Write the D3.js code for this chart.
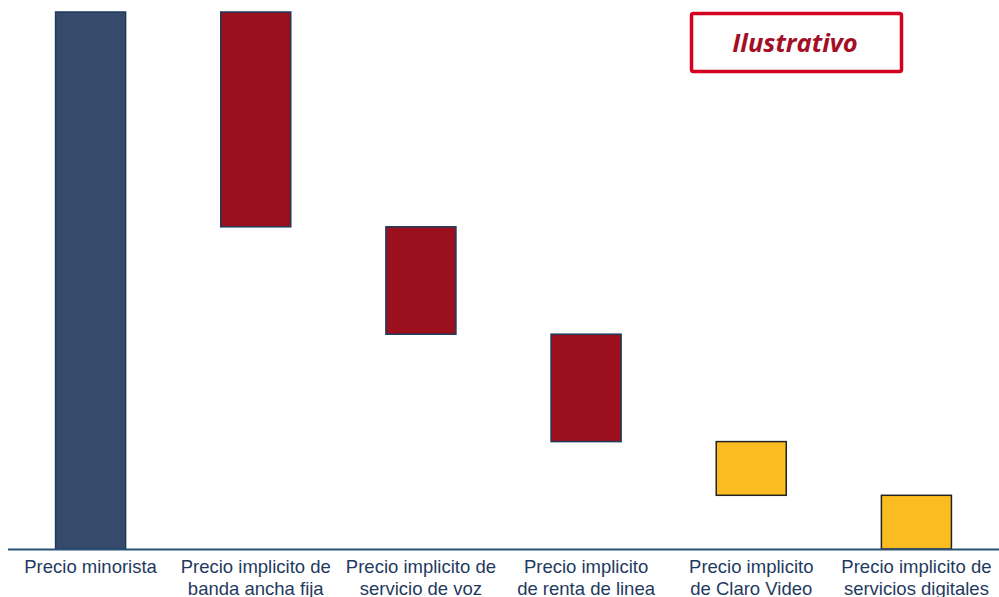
<!DOCTYPE html>
<html>
<head>
<meta charset="utf-8">
<script src="https://cdn.jsdelivr.net/npm/d3@7"></script>
<style>
  body { margin: 0; background: #fff; }
  svg { display: block; }
</style>
</head>
<body>
<div id="app"></div>
<script>
const categories = [
  ["Precio minorista"],
  ["Precio implicito de", "banda ancha fija"],
  ["Precio implicito de", "servicio de voz"],
  ["Precio implicito", "de renta de linea"],
  ["Precio implicito", "de Claro Video"],
  ["Precio implicito de", "servicios digitales"],
];
// total first, then the parts that stack down to zero
const values = [100, 40, 20, 20, 10, 10];
const kinds = ["total", "red", "red", "red", "yellow", "yellow"];

const width = 999;
const height = 597;

const fills = { total: "#364b6b", red: "#9c0f1c", yellow: "#fbbc21" };
const strokes = { total: "#1d3a5c", red: "#1d3a5c", yellow: "#222" };

// waterfall: each part hangs from where the previous one ended
let level = values[0];
const bars = values.map((v, i) => {
  if (i === 0) return { i, y0: 0, y1: v, kind: kinds[i] };
  const b = { i, y0: level - v, y1: level, kind: kinds[i] };
  level -= v;
  return b;
});

const svg = d3
  .select("#app")
  .append("svg")
  .attr("width", width)
  .attr("height", height)
  .attr("viewBox", [0, 0, width, height]);

const x = d3
  .scaleBand()
  .domain(d3.range(categories.length))
  .range([8, 999])
  .paddingInner(0.576)
  .paddingOuter(0.288);

const y = d3.scaleLinear().domain([0, 100]).range([549, 12]);

svg
  .append("g")
  .selectAll("rect")
  .data(bars)
  .join("rect")
  .attr("x", (d) => x(d.i))
  .attr("width", x.bandwidth())
  .attr("y", (d) => y(d.y1))
  .attr("height", (d) => y(d.y0) - y(d.y1))
  .attr("fill", (d) => fills[d.kind])
  .attr("stroke", (d) => strokes[d.kind])
  .attr("stroke-width", 1.5);

svg
  .append("line")
  .attr("x1", 8)
  .attr("x2", width)
  .attr("y1", y(0) + 0.5)
  .attr("y2", y(0) + 0.5)
  .attr("stroke", "#2a5278")
  .attr("stroke-width", 2);

const labels = svg
  .append("g")
  .attr("font-family", "'Liberation Sans', Arial, sans-serif")
  .attr("font-size", 18.5)
  .attr("fill", "#1f3a60")
  .attr("text-anchor", "middle")
  .selectAll("text")
  .data(categories)
  .join("text")
  .attr("x", (d, i) => x(i) + x.bandwidth() / 2)
  .attr("y", 573);

labels
  .selectAll("tspan")
  .data((d) => d)
  .join("tspan")
  .attr("x", function () {
    return d3.select(this.parentNode).attr("x");
  })
  .attr("dy", (d, j) => (j === 0 ? 0 : 22))
  .text((d) => d);

// "Ilustrativo" tag
const tag = svg.append("g");
tag
  .append("rect")
  .attr("x", 691.5)
  .attr("y", 13.5)
  .attr("width", 210)
  .attr("height", 58)
  .attr("rx", 2)
  .attr("fill", "#fff")
  .attr("stroke", "#d4001f")
  .attr("stroke-width", 3.5);
tag
  .append("text")
  .attr("x", 795)
  .attr("y", 52)
  .attr("text-anchor", "middle")
  .attr("font-family", "'Open Sans', sans-serif")
  .attr("font-style", "italic")
  .attr("font-weight", "bold")
  .attr("font-size", 25.5)
  .attr("fill", "#a30f25")
  .text("Ilustrativo");
</script>
</body>
</html>
